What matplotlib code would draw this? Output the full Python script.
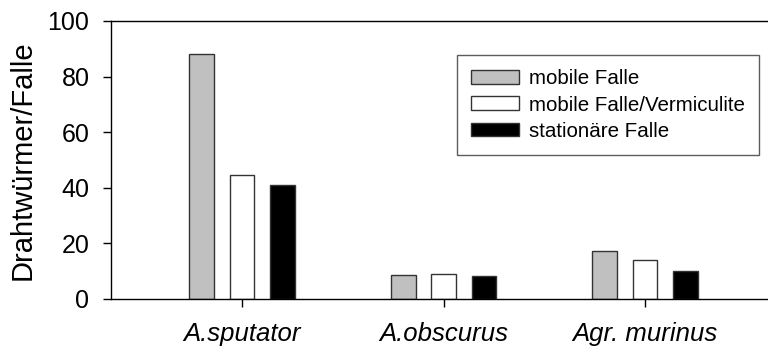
import numpy as np
import matplotlib
matplotlib.use("Agg")
import matplotlib.pyplot as plt

plt.rcParams['font.family'] = ['Liberation Sans', 'DejaVu Sans']

species = ["A.sputator", "A.obscurus", "Agr. murinus"]
mobile = [88.0, 8.5, 17.4]
mobile_verm = [44.6, 9.0, 14.0]
stationaer = [41.1, 8.3, 9.9]
series_names = ["mobile Falle", "mobile Falle/Vermiculite", "stationäre Falle"]
colors = ["#c0c0c0", "#ffffff", "#000000"]

fig = plt.figure(figsize=(7.68, 3.49), dpi=100)
ax = fig.add_axes([0.1445, 0.1433, 0.8555, 0.7966])

x = np.arange(len(species))
width = 0.122
for i, (vals, name, c) in enumerate(zip([mobile, mobile_verm, stationaer], series_names, colors)):
    ax.bar(x + (i - 1) * 0.2, vals, width, color=c, edgecolor="#333333", linewidth=1.0, label=name)

ax.set_xlim(-0.65, 2.61)
ax.set_ylim(0, 100)
ax.set_yticks([0, 20, 40, 60, 80, 100])
ax.set_xticks(x)
ax.set_xticklabels(species, fontstyle="italic", fontsize=18.5)
ax.tick_params(axis="y", labelsize=18, direction="out", length=6, width=1, pad=9.5)
ax.tick_params(axis="x", direction="out", length=6, width=1, pad=10.5)
ax.spines["right"].set_visible(False)
for s in ["left", "top", "bottom"]:
    ax.spines[s].set_linewidth(1.0)
ax.set_ylabel("Drahtwürmer/Falle", fontsize=21, labelpad=8)

leg = ax.legend(loc="upper left", bbox_to_anchor=(0.5266, 0.8777), borderaxespad=0,
                fontsize=14.8, frameon=True, fancybox=False, handlelength=2.3,
                handleheight=0.65, handletextpad=0.5, labelspacing=0.35, borderpad=0.7)
leg.get_frame().set_edgecolor("#333333")
leg.get_frame().set_linewidth(1.0)

fig.savefig("out.png", dpi=100)
